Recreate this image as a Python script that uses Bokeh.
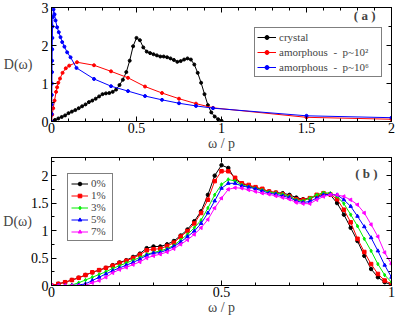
from bokeh.plotting import figure
from bokeh.models import (Range1d, LinearAxis, SingleIntervalTicker, Legend,
                          LegendItem, Label, CustomJSTickFormatter)
from bokeh.layouts import column
from bokeh.embed import file_html
from bokeh.resources import INLINE

FONT = "Liberation Serif"

# ---------------- data: panel (a) ----------------
omega_a = [0.00, 0.02, 0.04, 0.06, 0.08, 0.10, 0.12, 0.14, 0.16, 0.18,
           0.20, 0.22, 0.24, 0.26, 0.28, 0.30, 0.32, 0.34, 0.36, 0.38,
           0.40, 0.42, 0.44, 0.46, 0.48, 0.50, 0.52, 0.54, 0.56, 0.58,
           0.60, 0.62, 0.64, 0.66, 0.68, 0.70, 0.72, 0.74, 0.76, 0.78,
           0.80, 0.82, 0.84, 0.86, 0.88, 0.90, 0.92, 0.94, 0.96, 0.98,
           1.00]
crystal = [0.00, 0.04, 0.08, 0.12, 0.16, 0.22, 0.26, 0.30, 0.35, 0.40,
           0.45, 0.51, 0.55, 0.60, 0.66, 0.72, 0.74, 0.75, 0.78, 0.84,
           0.96, 1.10, 1.30, 1.60, 1.98, 2.20, 2.14, 1.95, 1.84, 1.80,
           1.77, 1.74, 1.71, 1.71, 1.69, 1.66, 1.62, 1.57, 1.59, 1.63,
           1.66, 1.63, 1.50, 1.28, 1.02, 0.72, 0.43, 0.24, 0.13, 0.06,
           0.02]
amorph2_w = [0.0, 0.004, 0.010, 0.018, 0.027, 0.033, 0.040, 0.050, 0.065, 0.084,
             0.104, 0.15, 0.25, 0.35, 0.45, 0.55, 0.65, 0.75, 0.85, 0.95,
             1.5, 2.0]
amorph2_d = [0.0, 0.18, 0.35, 0.55, 0.78, 0.90, 1.02, 1.13, 1.28, 1.40,
             1.47, 1.56, 1.48, 1.32, 1.15, 0.92, 0.75, 0.60, 0.47, 0.36,
             0.11, 0.06]
amorph6_w = [0.0, 0.001, 0.0015, 0.002, 0.0025, 0.003, 0.0035, 0.004, 0.005, 0.006,
             0.008, 0.012, 0.018, 0.024, 0.033, 0.043, 0.053, 0.063, 0.076, 0.092,
             0.112, 0.147, 0.25, 0.35, 0.45, 0.55, 0.65, 0.75, 0.85, 0.95,
             1.5, 2.0]
amorph6_d = [0.0, 0.2, 0.45, 0.7, 1.0, 1.3, 1.6, 1.9, 2.2, 2.5,
             2.75, 2.95, 2.82, 2.66, 2.48, 2.35, 2.22, 2.09, 1.97, 1.82,
             1.69, 1.41, 1.12, 0.93, 0.80, 0.67, 0.57, 0.48, 0.41, 0.35,
             0.15, 0.10]
labels_a = ["crystal", "amorphous\u00a0\u00a0-\u00a0\u00a0p~10\u00b2",
            "amorphous\u00a0\u00a0-\u00a0\u00a0p~10\u2076"]

# ---------------- data: panel (b) ----------------
omega_b = omega_a
d_0 = [0.00, 0.03, 0.06, 0.10, 0.14, 0.19, 0.24, 0.28, 0.32, 0.37,
       0.42, 0.46, 0.52, 0.58, 0.68, 0.71, 0.71, 0.75, 0.81, 0.91,
       1.02, 1.17, 1.35, 1.65, 2.00, 2.19, 2.14, 1.93, 1.86, 1.81,
       1.78, 1.75, 1.71, 1.69, 1.68, 1.65, 1.60, 1.57, 1.59, 1.63,
       1.66, 1.65, 1.50, 1.29, 1.05, 0.81, 0.54, 0.30, 0.15, 0.06,
       0.01]
d_1 = [0.00, 0.03, 0.06, 0.10, 0.14, 0.19, 0.24, 0.28, 0.32, 0.36,
       0.41, 0.45, 0.50, 0.56, 0.64, 0.66, 0.67, 0.72, 0.78, 0.89,
       0.99, 1.13, 1.32, 1.56, 1.90, 2.08, 2.08, 1.96, 1.86, 1.83,
       1.79, 1.76, 1.71, 1.69, 1.66, 1.62, 1.57, 1.56, 1.59, 1.65,
       1.68, 1.66, 1.57, 1.38, 1.15, 0.85, 0.61, 0.39, 0.21, 0.09,
       0.03]
d_3 = [0.00, 0.00, 0.00, 0.01, 0.05, 0.10, 0.15, 0.20, 0.25, 0.31,
       0.36, 0.41, 0.46, 0.51, 0.57, 0.60, 0.63, 0.67, 0.73, 0.83,
       0.93, 1.05, 1.19, 1.41, 1.65, 1.84, 1.93, 1.90, 1.83, 1.80,
       1.77, 1.74, 1.70, 1.68, 1.66, 1.62, 1.56, 1.54, 1.59, 1.65,
       1.69, 1.68, 1.62, 1.49, 1.29, 1.08, 0.85, 0.63, 0.39, 0.19,
       0.06]
d_5 = [0.00, 0.00, 0.00, 0.00, 0.01, 0.03, 0.09, 0.15, 0.21, 0.27,
       0.32, 0.37, 0.42, 0.48, 0.55, 0.59, 0.60, 0.65, 0.71, 0.79,
       0.89, 0.99, 1.13, 1.32, 1.54, 1.77, 1.86, 1.86, 1.81, 1.79,
       1.76, 1.72, 1.68, 1.66, 1.63, 1.60, 1.54, 1.51, 1.53, 1.59,
       1.65, 1.66, 1.65, 1.56, 1.44, 1.26, 1.07, 0.87, 0.63, 0.37,
       0.15]
d_7 = [0.00, 0.00, 0.00, 0.00, 0.00, 0.00, 0.05, 0.09, 0.15, 0.23,
       0.29, 0.33, 0.38, 0.43, 0.50, 0.54, 0.57, 0.61, 0.67, 0.75,
       0.83, 0.93, 1.05, 1.20, 1.41, 1.59, 1.75, 1.78, 1.77, 1.74,
       1.71, 1.68, 1.66, 1.63, 1.60, 1.57, 1.51, 1.49, 1.49, 1.56,
       1.62, 1.65, 1.65, 1.62, 1.56, 1.47, 1.32, 1.11, 0.89, 0.60,
       0.39]
labels_b = ["0%", "1%", "3%", "5%", "7%"]
colors_b = ["#000000", "#ff0000", "#00ee00", "#0000ff", "#ff00ff"]
markers_b = ["circle", "square", "diamond", "triangle", "triangle"]
angles_b = [0.0, 0.0, 0.0, 0.0, 1.5708]


def fmt():
    return CustomJSTickFormatter(code="return String(Math.round(tick*100)/100);")


def tick_style(ax, labels=True, standoff=2):
    ax.major_tick_in = 5
    ax.major_tick_out = 0
    ax.minor_tick_in = 3
    ax.minor_tick_out = 0
    ax.axis_line_color = "black"
    ax.major_tick_line_color = "black"
    ax.minor_tick_line_color = "black"
    if labels:
        ax.formatter = fmt()
        ax.major_label_text_font = FONT
        ax.major_label_text_font_size = "14px"
        ax.major_label_text_color = "black"
        ax.major_label_standoff = standoff
    else:
        ax.formatter = CustomJSTickFormatter(code="return '';")
        ax.major_label_text_font_size = "0px"
        ax.major_label_standoff = 0


def make_fig(height, xr, yr, xint, yint, ynminor, top_border, ylab_standoff, ylab_y):
    p = figure(width=395, height=height, x_range=xr, y_range=yr,
               output_backend="svg", toolbar_location=None,
               min_border_left=51, min_border_right=4,
               min_border_top=top_border, min_border_bottom=0)
    p.grid.visible = False
    p.outline_line_color = "black"
    p.background_fill_color = "white"
    p.border_fill_color = "white"
    xt = SingleIntervalTicker(interval=xint, num_minor_ticks=5)
    yt = SingleIntervalTicker(interval=yint, num_minor_ticks=ynminor)
    p.xaxis[0].ticker = xt
    p.yaxis[0].ticker = yt
    tick_style(p.xaxis[0], True, 1)
    tick_style(p.yaxis[0], True, 3)
    xa = p.xaxis[0]
    xa.axis_label = "\u03c9 / p"
    xa.axis_label_text_font = FONT
    xa.axis_label_text_font_size = "14px"
    xa.axis_label_text_font_style = "normal"
    xa.axis_label_standoff = 0
    ya = p.yaxis[0]
    try:
        ya.axis_label_orientation = "horizontal"
        ya.axis_label = "D(\u03c9)"
        ya.axis_label_text_font = FONT
        ya.axis_label_text_font_size = "14px"
        ya.axis_label_text_font_style = "normal"
        ya.axis_label_standoff = ylab_standoff
    except AttributeError:
        p.add_layout(Label(x=5, y=ylab_y, x_units="screen", y_units="data",
                           text="D(\u03c9)", text_baseline="middle",
                           text_font=FONT, text_font_size="14px"))
    top = LinearAxis(ticker=xt)
    tick_style(top, False)
    p.add_layout(top, "above")
    right = LinearAxis(ticker=yt)
    tick_style(right, False)
    p.add_layout(right, "right")
    return p


# ---------------- panel (a) ----------------
p1 = make_fig(153, Range1d(0, 2), Range1d(0, 3), 0.5, 1, 2, 7, 6, 1.75)
items = []
for w, d, c, lab in [(omega_a, crystal, "black", labels_a[0]),
                     (amorph2_w, amorph2_d, "#ff0000", labels_a[1]),
                     (amorph6_w, amorph6_d, "#0000ff", labels_a[2])]:
    lr = p1.line(w, d, line_color=c, line_width=1)
    sr = p1.scatter(w, d, marker="circle", size=3, fill_color=c, line_color=c)
    items.append(LegendItem(label=lab, renderers=[lr, sr]))
leg1 = Legend(items=items, location=(203, 44), border_line_color="black",
              border_line_width=1, background_fill_color="white",
              background_fill_alpha=1, padding=2, spacing=1, margin=0,
              label_text_font=FONT, label_text_font_size="11px",
              label_text_line_height=0.9,
              glyph_width=19, glyph_height=10, label_height=14,
              label_width=100, label_standoff=3)
p1.add_layout(leg1)
p1.add_layout(Label(x=1.906, y=2.79, text="( a )", text_align="right",
                    text_baseline="middle", text_font=FONT, text_font_size="13px",
                    text_font_style="bold"))

# ---------------- panel (b) ----------------
p2 = make_fig(164, Range1d(0, 1), Range1d(0, 2.33), 0.5, 0.5, 2, 4, -4, 1.17)
items2 = []
for d, c, m, a, lab in zip([d_0, d_1, d_3, d_5, d_7], colors_b, markers_b, angles_b, labels_b):
    lr = p2.line(omega_b, d, line_color=c, line_width=1)
    sr = p2.scatter(omega_b, d, marker=m, size=3.5, angle=a, fill_color=c, line_color=c)
    items2.append(LegendItem(label=lab, renderers=[lr, sr]))
leg2 = Legend(items=items2, location="top_left", margin=16,
              border_line_color="black", border_line_width=1,
              background_fill_color="white", background_fill_alpha=1,
              padding=3, spacing=0, label_text_font=FONT,
              label_text_font_size="11px", label_text_line_height=0.9,
              glyph_width=17, glyph_height=9, label_height=9,
              label_width=18, label_standoff=3)
p2.add_layout(leg2)
p2.add_layout(Label(x=0.959, y=2.04, text="( b )", text_align="right",
                    text_baseline="middle", text_font=FONT, text_font_size="13px",
                    text_font_style="bold"))

layout = column(p1, p2)
open("out.html", "w").write(file_html(layout, INLINE))
